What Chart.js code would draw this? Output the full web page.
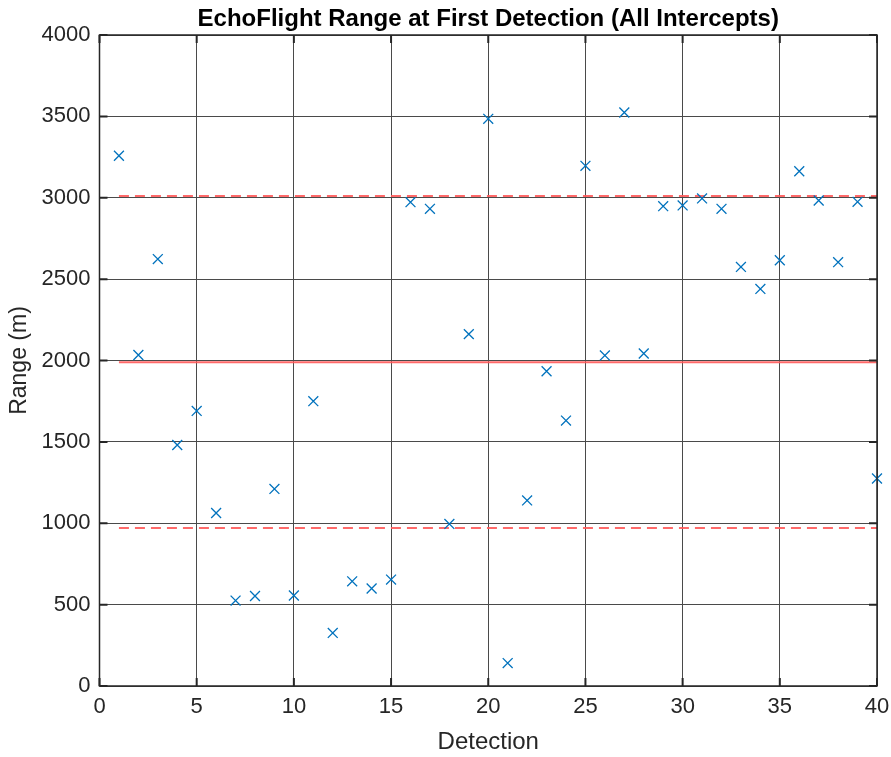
<!DOCTYPE html>
<html>
<head>
<meta charset="utf-8">
<script src="https://cdn.jsdelivr.net/npm/chart.js@4"></script>
<style>
  html, body { margin: 0; padding: 0; background: #fff; }
  #wrap { width: 891px; height: 757px; }
</style>
</head>
<body>
<div id="wrap"><canvas id="range-chart" width="891" height="757"></canvas></div>
<script>
// range at first detection, one value per detection (m)
const detections = [1, 2, 3, 4, 5, 6, 7, 8, 9, 10, 11, 12, 13, 14, 15, 16, 17, 18, 19, 20,
                    21, 22, 23, 24, 25, 26, 27, 28, 29, 30, 31, 32, 33, 34, 35, 36, 37, 38, 39, 40]
const ranges = [3258, 2034, 2623, 1481, 1690, 1063, 525, 553, 1211, 556,
                1750, 326, 643, 599, 654, 2973, 2932, 996, 2162, 3485,
                141, 1140, 1934, 1631, 3196, 2031, 3524, 2043, 2948, 2953,
                2996, 2932, 2575, 2440, 2616, 3163, 2983, 2604, 2975, 1275]

// mean and +/- one standard deviation
const meanRange = 1990
const upperBand = 3010
const lowerBand = 971

const xTicks = [0, 5, 10, 15, 20, 25, 30, 35, 40]
const yTicks = [0, 500, 1000, 1500, 2000, 2500, 3000, 3500, 4000]

const FONT = '"Liberation Sans", Arial, Helvetica, sans-serif'
const INK = '#262626'

const hline = (y) => [{ x: detections[0], y: y }, { x: detections[detections.length - 1], y: y }]

// full box with inward ticks, like the axes frame
const boxPlugin = {
  id: 'axesBox',
  afterDatasetsDraw(chart) {
    const { ctx, chartArea: a, scales: { x, y } } = chart
    ctx.save()
    ctx.strokeStyle = INK
    ctx.lineWidth = 1.5
    ctx.strokeRect(a.left, a.top, a.right - a.left, a.bottom - a.top)
    ctx.lineWidth = 2
    ctx.beginPath()
    xTicks.forEach(v => {
      const px = x.getPixelForValue(v)
      ctx.moveTo(px, a.bottom); ctx.lineTo(px, a.bottom - 8)
      ctx.moveTo(px, a.top); ctx.lineTo(px, a.top + 8)
    })
    yTicks.forEach(v => {
      const py = y.getPixelForValue(v)
      ctx.moveTo(a.left, py); ctx.lineTo(a.left + 8, py)
      ctx.moveTo(a.right, py); ctx.lineTo(a.right - 8, py)
    })
    ctx.stroke()
    ctx.restore()
  }
}

const chartCanvas = document.querySelector('#range-chart')

const rangeChart = new Chart(chartCanvas, {
  type: 'scatter',
  data: {
    datasets: [
      {
        label: 'Range',
        data: detections.map((d, i) => ({ x: d, y: ranges[i] })),
        pointStyle: 'crossRot',
        pointRadius: 7,
        pointBorderWidth: 1.3,
        borderColor: '#0072BD',
        backgroundColor: '#0072BD',
        showLine: false,
        clip: false,
      },
      {
        label: 'Mean',
        type: 'line',
        data: hline(meanRange),
        borderColor: 'rgba(255,90,90,0.9)',
        borderWidth: 2,
        pointRadius: 0,
      },
      {
        label: '+1 SD',
        type: 'line',
        data: hline(upperBand),
        borderColor: 'rgba(255,90,90,0.9)',
        borderWidth: 2,
        borderDash: [10, 6],
        pointRadius: 0,
      },
      {
        label: '-1 SD',
        type: 'line',
        data: hline(lowerBand),
        borderColor: 'rgba(255,90,90,0.9)',
        borderWidth: 2,
        borderDash: [10, 6],
        pointRadius: 0,
      },
    ],
  },
  options: {
    responsive: false,
    animation: false,
    layout: { padding: { left: 0, right: 14, top: 0, bottom: 0 } },
    plugins: {
      legend: { display: false },
      tooltip: { enabled: false },
      title: {
        display: true,
        text: 'EchoFlight Range at First Detection (All Intercepts)',
        color: '#000',
        fullSize: false,
        font: { family: FONT, size: 24, weight: 'bold', lineHeight: 1.2 },
        padding: { top: 4.5, bottom: 1.7 },
      },
    },
    scales: {
      x: {
        type: 'linear',
        min: 0,
        max: 40,
        afterFit: (s) => { s.height = 71; s.paddingLeft = 0; s.paddingRight = 0 },
        afterBuildTicks: (s) => { s.ticks = xTicks.map(v => ({ value: v })) },
        grid: { color: '#4a4a4a', lineWidth: 1, drawTicks: false },
        border: { display: false },
        ticks: { color: INK, font: { family: FONT, size: 22 }, padding: 8, maxRotation: 0 },
        title: {
          display: true,
          text: 'Detection',
          color: INK,
          font: { family: FONT, size: 24, lineHeight: 1.2 },
          padding: { top: 0, bottom: 0 },
        },
      },
      y: {
        type: 'linear',
        min: 0,
        max: 4000,
        afterFit: (s) => { s.width = 99.5; s.paddingTop = 0; s.paddingBottom = 0 },
        afterBuildTicks: (s) => { s.ticks = yTicks.map(v => ({ value: v })) },
        grid: { color: '#4a4a4a', lineWidth: 1, drawTicks: false },
        border: { display: false },
        ticks: {
          color: INK,
          font: { family: FONT, size: 22 },
          padding: 9,
          callback: (value) => String(value),
        },
        title: {
          display: true,
          text: 'Range (m)',
          color: INK,
          font: { family: FONT, size: 23, lineHeight: 1.2 },
          padding: { top: 5.5, bottom: 0 },
        },
      },
    },
  },
  plugins: [boxPlugin],
})
</script>
</body>
</html>
